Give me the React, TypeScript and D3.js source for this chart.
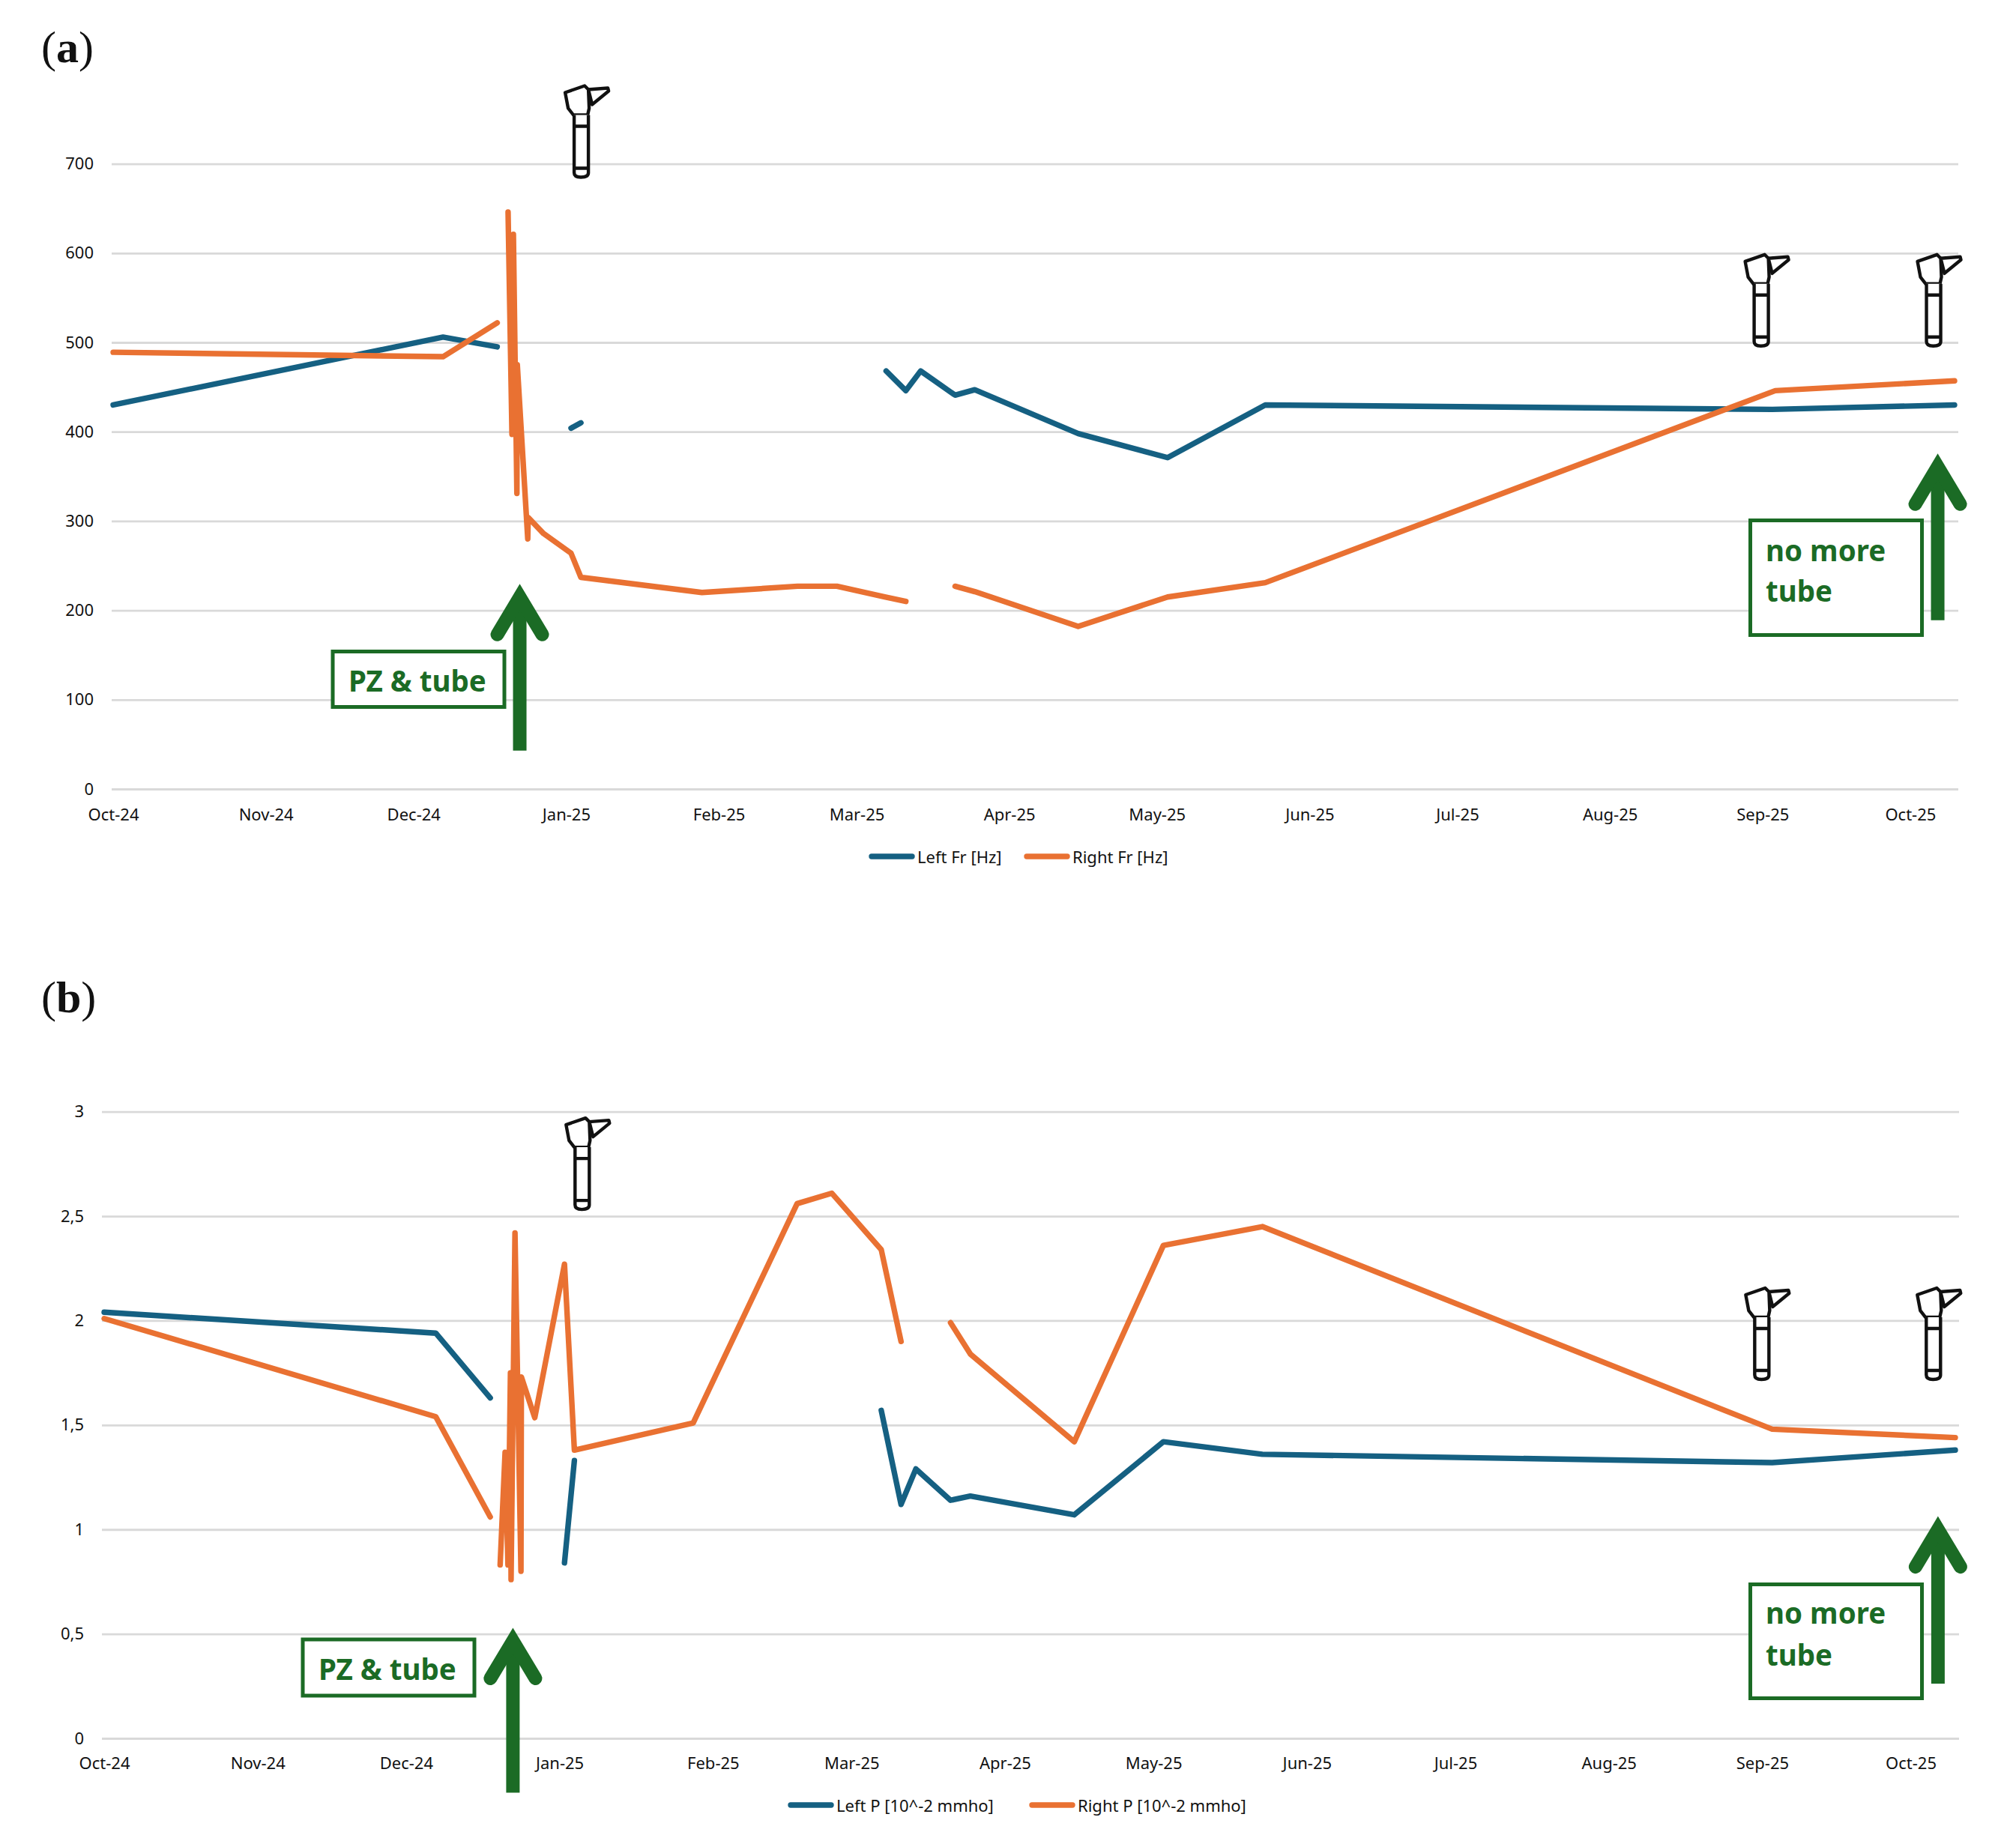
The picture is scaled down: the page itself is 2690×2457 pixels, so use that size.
import React, { useEffect, useRef } from 'react';
import * as d3 from 'd3';

// x axis months (Excel date axis)
const monthTicks = [
  '2024-10-01', '2024-11-01', '2024-12-01', '2025-01-01', '2025-02-01', '2025-03-01', '2025-04-01',
  '2025-05-01', '2025-06-01', '2025-07-01', '2025-08-01', '2025-09-01', '2025-10-01',
];

// (a) resonance frequency; null = no measurement, line breaks there
const leftFrDates = [
  '2024-10-01', '2024-12-07', '2024-12-18', '2024-12-25', '2025-01-02', '2025-01-04', '2025-02-01',
  '2025-03-07', '2025-03-11', '2025-03-14', '2025-03-21', '2025-03-25', '2025-04-15', '2025-05-03T04:00',
  '2025-05-23', '2025-09-03', '2025-10-10',
];
const leftFrValues = [430, 506, 495, null, 404, 410, null, 468, 446, 468, 441, 447, 398, 371, 430, 425, 430];

const rightFrDates = [
  '2024-10-01', '2024-12-07', '2024-12-18', '2024-12-19', '2024-12-20T05:00', '2024-12-21T00:00',
  '2024-12-21T07:00', '2024-12-22T00:00', '2024-12-22T02:00', '2024-12-24T05:00', '2024-12-24T07:00',
  '2024-12-27T10:00', '2025-01-02', '2025-01-04', '2025-01-28T14:00', '2025-02-17', '2025-02-25',
  '2025-03-06T17:00', '2025-03-11', '2025-03-15', '2025-03-21', '2025-03-25', '2025-04-15',
  '2025-05-03T04:00', '2025-05-23', '2025-09-03T14:00', '2025-10-10',
];
const rightFrValues = [
  489, 484, 522, null, 646, 397, 621, 331, 475, 280, 304, 286, 264, 237, 220, 227, 227, 215, 210, null,
  227, 221, 182, 215, 231, 446, 457,
];

// (b) peak admittance
const leftPDates = [
  '2024-10-01', '2024-12-07', '2024-12-18', '2024-12-25', '2025-01-02', '2025-01-04', '2025-02-01',
  '2025-03-07', '2025-03-11', '2025-03-14', '2025-03-21', '2025-03-25', '2025-04-15', '2025-05-03',
  '2025-05-23', '2025-09-03', '2025-10-10',
];
const leftPValues = [2.04, 1.94, 1.63, null, 0.84, 1.33, null, 1.57, 1.12, 1.29, 1.14, 1.16, 1.07, 1.42, 1.36, 1.32, 1.38];

const rightPDates = [
  '2024-10-01', '2024-12-07', '2024-12-18', '2024-12-19', '2024-12-20', '2024-12-21', '2024-12-21T14:00',
  '2024-12-22T02:00', '2024-12-22T05:00', '2024-12-23', '2024-12-24T05:00', '2024-12-24T07:00',
  '2024-12-27', '2025-01-02', '2025-01-04', '2025-01-28', '2025-02-18', '2025-02-25', '2025-03-07',
  '2025-03-11', '2025-03-15', '2025-03-21', '2025-03-25', '2025-04-15', '2025-05-03', '2025-05-23',
  '2025-09-03', '2025-10-10',
];
const rightPValues = [
  2.01, 1.54, 1.06, null, 0.83, 1.37, 0.83, 1.75, 0.76, 2.42, 0.8, 1.73, 1.535, 2.27, 1.38, 1.51, 2.56,
  2.61, 2.34, 1.9, null, 1.99, 1.84, 1.42, 2.36, 2.45, 1.48, 1.44,
];

const frTicks = [0, 100, 200, 300, 400, 500, 600, 700];
const pTicks = [0, 0.5, 1, 1.5, 2, 2.5, 3];

const BLUE = '#156082';
const ORANGE = '#E97132';
const GREEN = '#1B6B25';
const GRID = '#D9D9D9';
const AXIS_FONT = '"Noto Sans", sans-serif';
const NOTE_FONT = '"Noto Sans", sans-serif';
const LINE_W = 7.4;

const parse = (s: string) => new Date(s.length > 10 ? s + 'Z' : s + 'T00:00Z');

// otoscope icon, drawn from its top-left corner
const Otoscope = ({ x, y }: { x: number; y: number }) => (
  <g transform={`translate(${x},${y})`} fill="#fff" stroke="#111" strokeWidth={4.4} strokeLinejoin="round">
    <path d="M33 7 L59 5 L60 9 L38 27 Z" />
    <path d="M2 11 L28 2 L33 7 L34 32 L32 41 L13 41 L6 32 Z" />
    <path d="M14 41 L14 118 Q14 124 23 124 Q33 124 33 118 L33 41" />
    <path d="M14 56 L33 56 M14 112 L33 112" fill="none" />
  </g>
);

// big green annotation arrow, tip and foot given in pixels from the y scale
const Arrow = ({ x, tip, foot }: { x: number; tip: number; foot: number }) => (
  <g fill="none" stroke={GREEN} strokeWidth={18}>
    <line x1={x} x2={x} y1={foot} y2={tip + 20} />
    <path
      d={`M${x - 30} ${tip + 68} L${x} ${tip + 18} L${x + 30} ${tip + 68}`}
      strokeLinecap="round"
      strokeLinejoin="miter"
      strokeMiterlimit={6}
    />
  </g>
);

const Note = ({ box, lines }: { box: number[]; lines: { x: number; y: number; text: string }[] }) => (
  <g>
    <rect x={box[0]} y={box[1]} width={box[2]} height={box[3]} fill="#fff" stroke={GREEN} strokeWidth={5} />
    {lines.map((l) => (
      <text key={l.text} x={l.x} y={l.y} fill={GREEN} fontFamily={NOTE_FONT} fontWeight={700} fontSize={38.5}>
        {l.text}
      </text>
    ))}
  </g>
);

const Panel = ({
  label, labelY, xRange, gridX, yRange, yMax, ticks, tickText, series, legend, legendY, xLabelY,
  arrows, notes, icons,
}: any) => {
  const gridRef = useRef<SVGGElement>(null);
  const xAxisRef = useRef<SVGGElement>(null);

  const x = d3.scaleUtc().domain([parse('2024-10-01'), parse('2025-10-10')]).range(xRange);
  const y = d3.scaleLinear().domain([0, yMax]).range(yRange);

  useEffect(() => {
    const grid = d3.select(gridRef.current!);
    grid.call(
      d3.axisLeft(y)
        .tickValues(ticks)
        .tickSize(-(gridX[1] - gridX[0]))
        .tickPadding(24)
        .tickFormat((d: any) => tickText(d)) as any
    );
    grid.select('.domain').remove();
    grid.selectAll('line').attr('stroke', GRID).attr('stroke-width', 2.8);
    grid.selectAll('text').attr('font-family', AXIS_FONT).attr('font-size', 22).attr('fill', '#111');

    const xa = d3.select(xAxisRef.current!);
    xa.call(
      d3.axisBottom(x)
        .tickValues(monthTicks.map(parse))
        .tickSize(0)
        .tickFormat(d3.utcFormat('%b-%y') as any) as any
    );
    xa.select('.domain').remove();
    xa.selectAll('text')
      .attr('font-family', AXIS_FONT)
      .attr('font-size', 22)
      .attr('fill', '#111')
      .attr('dy', null)
      .attr('y', 0)
      .attr('dominant-baseline', 'central');
  });

  const line = d3.line<any>()
    .defined((d) => d[1] !== null)
    .x((d) => x(parse(d[0])))
    .y((d) => y(d[1]));

  return (
    <g>
      <text x={55} y={labelY} fontFamily='"Liberation Serif", serif' fontSize={60} fill="#111">
        (<tspan fontWeight={700}>{label}</tspan>)
      </text>
      <g ref={gridRef} transform={`translate(${gridX[0]},0)`} />
      <g ref={xAxisRef} transform={`translate(0,${xLabelY})`} />
      {series.map((s: any) => (
        <path
          key={s.name}
          d={line(s.dates.map((d: string, i: number) => [d, s.values[i]])) || ''}
          fill="none"
          stroke={s.color}
          strokeWidth={LINE_W}
          strokeLinecap="round"
          strokeLinejoin="round"
        />
      ))}
      {notes.map((n: any, i: number) => <Note key={i} box={n.box} lines={n.lines} />)}
      {arrows.map((a: any, i: number) => (
        <Arrow key={i} x={x(parse(a.date))} tip={y(a.tip)} foot={y(a.foot)} />
      ))}
      {icons.map((c: any, i: number) => <Otoscope key={i} x={x(parse(c.date)) - 23} y={y(c.top)} />)}
      {legend.map((l: any) => (
        <g key={l.name}>
          <line x1={l.x + 3} x2={l.x + 57} y1={legendY} y2={legendY} stroke={l.color} strokeWidth={LINE_W} strokeLinecap="round" />
          <text x={l.x + 64} y={legendY} dominantBaseline="central" fontFamily={AXIS_FONT} fontSize={22} fill="#111">
            {l.name}
          </text>
        </g>
      ))}
    </g>
  );
};

export default function App() {
  return (
    <svg
      width={2690}
      height={2457}
      style={{ position: 'absolute', left: 0, top: 0, background: '#fff', display: 'block' }}
    >
      <Panel
        label="a"
        labelY={83}
        xRange={[151, 2608]}
        gridX={[149, 2613]}
        yRange={[1053, 218.6]}
        yMax={700}
        ticks={frTicks}
        tickText={(d: number) => String(d)}
        xLabelY={1086}
        series={[
          { name: 'Left Fr [Hz]', color: BLUE, dates: leftFrDates, values: leftFrValues },
          { name: 'Right Fr [Hz]', color: ORANGE, dates: rightFrDates, values: rightFrValues },
        ]}
        legendY={1143}
        legend={[
          { name: 'Left Fr [Hz]', color: BLUE, x: 1160 },
          { name: 'Right Fr [Hz]', color: ORANGE, x: 1367 },
        ]}
        arrows={[
          { date: '2024-12-22T14:00', tip: 230, foot: 43 },
          { date: '2025-10-06T14:00', tip: 376, foot: 189 },
        ]}
        notes={[
          { box: [444, 869.5, 229, 74], lines: [{ x: 465, y: 923, text: 'PZ & tube' }] },
          {
            box: [2335.5, 694.5, 229, 153],
            lines: [{ x: 2356, y: 749, text: 'no more' }, { x: 2356, y: 803, text: 'tube' }],
          },
        ]}
        icons={[
          { date: '2025-01-04', top: 789 },
          { date: '2025-08-31T16:00', top: 600 },
          { date: '2025-10-05T16:00', top: 600 },
        ]}
      />
      <Panel
        label="b"
        labelY={1351}
        xRange={[139, 2609]}
        gridX={[136, 2614]}
        yRange={[2320, 1483.7]}
        yMax={3}
        ticks={pTicks}
        tickText={(d: number) => String(d).replace('.', ',')}
        xLabelY={2352}
        series={[
          { name: 'Left P [10^-2 mmho]', color: BLUE, dates: leftPDates, values: leftPValues },
          { name: 'Right P [10^-2 mmho]', color: ORANGE, dates: rightPDates, values: rightPValues },
        ]}
        legendY={2409}
        legend={[
          { name: 'Left P [10^-2 mmho]', color: BLUE, x: 1052 },
          { name: 'Right P [10^-2 mmho]', color: ORANGE, x: 1374 },
        ]}
        arrows={[
          { date: '2024-12-22T14:00', tip: 0.531, foot: -0.26 },
          { date: '2025-10-06T12:00', tip: 1.065, foot: 0.262 },
        ]}
        notes={[
          { box: [404, 2188, 229, 75], lines: [{ x: 425, y: 2242, text: 'PZ & tube' }] },
          {
            box: [2335.5, 2114.5, 229, 152],
            lines: [{ x: 2356, y: 2167, text: 'no more' }, { x: 2356, y: 2223, text: 'tube' }],
          },
        ]}
        icons={[
          { date: '2025-01-05T12:00', top: 2.977 },
          { date: '2025-08-31T20:00', top: 2.163 },
          { date: '2025-10-05T12:00', top: 2.163 },
        ]}
      />
    </svg>
  );
}
